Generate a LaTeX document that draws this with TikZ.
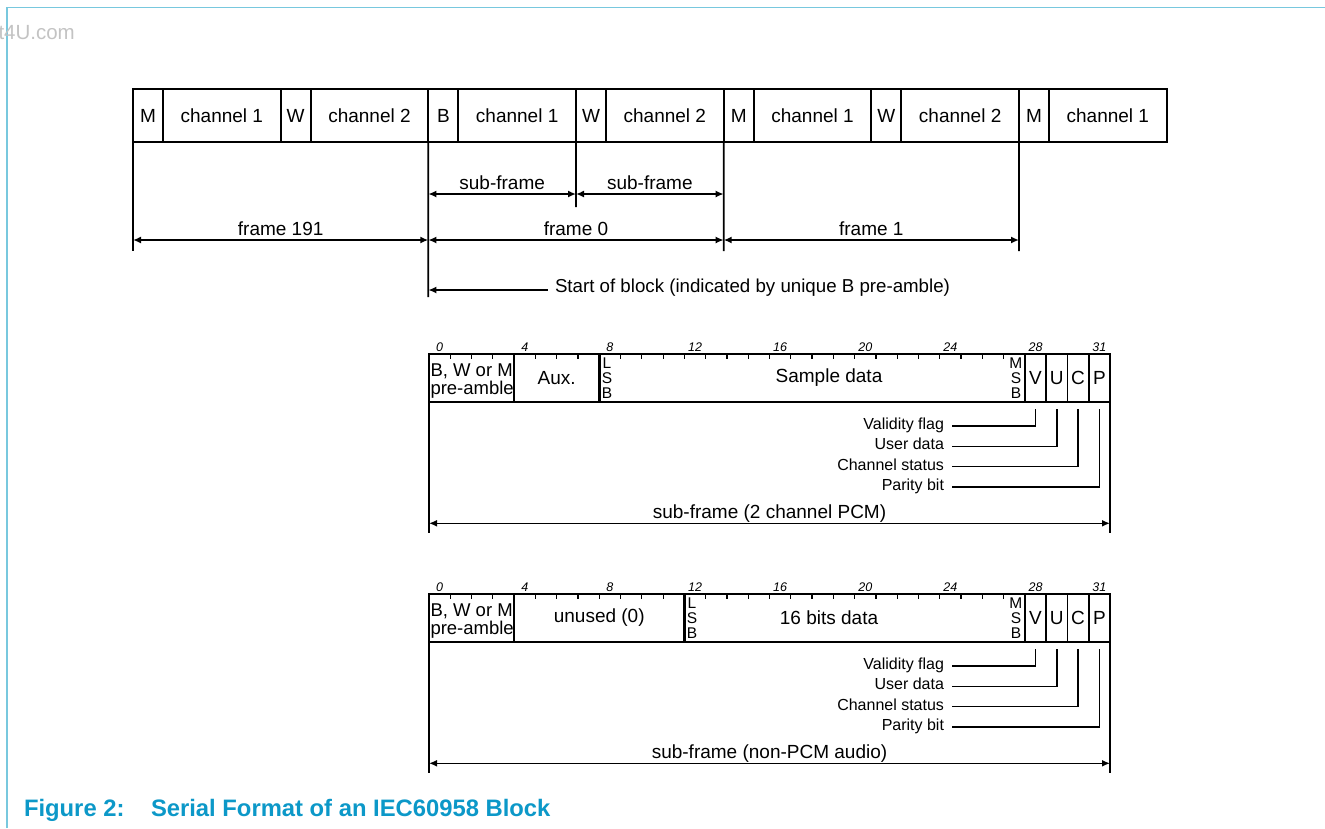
\documentclass[tikz,border=0pt]{standalone}
\usepackage{fontspec}
\setmainfont{Liberation Sans}
\usetikzlibrary{arrows.meta}
\definecolor{capblue}{RGB}{12,152,200}
\definecolor{rulecyan}{RGB}{120,200,222}
\definecolor{wmgray}{RGB}{195,195,195}
\newcommand{\myfs}[2]{\fontsize{#1}{#2}\selectfont}
\def\bw{21.28125}
\begin{document}
\begin{tikzpicture}[x=1pt,y=-1pt,
  every node/.style={inner sep=0pt,outer sep=0pt},
  topcell/.style={draw,line width=2.2pt,minimum height=53pt,anchor=north west,font=\myfs{19}{20}},
  vline/.style={line width=1.8pt},
  dimarrow/.style={line width=1.6pt,{Latex[length=8pt,width=7pt]}-{Latex[length=8pt,width=7pt]}},
  onearrow/.style={line width=1.6pt,{Latex[length=8pt,width=7pt]}-},
  lbl/.style={font=\myfs{19}{20}},
  ticklbl/.style={font=\itshape\myfs{12.5}{13},anchor=base},
  bitbox/.style={draw,line width=1.8pt,minimum width=681pt,minimum height=48pt,anchor=north west},
  sepline/.style={line width=1.6pt},
  lsbline/.style={line width=2.5pt},
  tickline/.style={line width=1.2pt},
  flaglbl/.style={font=\myfs{16}{17},anchor=base east},
  flagline/.style={line width=1.6pt},
  stack/.style={font=\myfs{15.5}{15}},
  bitlbl/.style={font=\myfs{19}{20}}
]
\useasboundingbox (0,0) rectangle (1325,828);

% page border and watermark
\coordinate (bl) at (7,828);
\coordinate (tl) at (7,7.3);
\coordinate (tr) at (1325,7.3);
\draw[rulecyan,line width=1.6pt] (bl) -- (tl) -- (tr);
\node[anchor=west,text=wmgray,font=\myfs{20.5}{21}] (wm) at (-1.5,33) {t4U.com};

% top row of sub-frames
\foreach \p [count=\k from 0] in {M,W,B,W,M,W,M} {
  \pgfmathsetmacro\xa{133+\k*147.667}
  \pgfmathtruncatemacro\ch{mod(\k,2)+1}
  \node[topcell,minimum width=30pt] (pre\k) at (\xa,89) {\p};
  \node[topcell,minimum width=117.667pt] (ch\k) at (\xa+30,89) {channel \ch};
}

% extension lines
\coordinate (e0) at (133,251);
\coordinate (e2) at (428.33,297);
\coordinate (e3) at (576,207);
\coordinate (e4) at (723.67,251);
\coordinate (e6) at (1019,251);
\foreach \k in {0,2,3,4,6} \draw[vline] (pre\k.south west) -- (e\k);

% sub-frame arrows
\coordinate (sA) at (428.33,194);
\coordinate (sB) at (576,194);
\coordinate (sC) at (723.67,194);
\draw[dimarrow] (sA) -- (sB) node[midway,lbl,anchor=base,yshift=5pt] (sf1) {sub-frame};
\draw[dimarrow] (sB) -- (sC) node[midway,lbl,anchor=base,yshift=5pt] (sf2) {sub-frame};

% frame arrows
\coordinate (fA) at (133,240);
\coordinate (fB) at (428.33,240);
\coordinate (fC) at (723.67,240);
\coordinate (fD) at (1019,240);
\draw[dimarrow] (fA) -- (fB) node[midway,lbl,anchor=base,yshift=5pt] (fr191) {frame 191};
\draw[dimarrow] (fB) -- (fC) node[midway,lbl,anchor=base,yshift=5pt] (fr0) {frame 0};
\draw[dimarrow] (fC) -- (fD) node[midway,lbl,anchor=base,yshift=5pt] (fr1) {frame 1};

% start of block
\node[lbl,anchor=base west,font=\myfs{18.7}{20}] (sob) at (555,292) {Start of block (indicated by unique B pre-amble)};
\coordinate (sbA) at (428.33,290);
\coordinate (sbB) at (548,290);
\draw[onearrow] (sbA) -- (sbB);

% the two sub-frame layouts
\foreach \yo/\b/\ls/\midt/\dat/\sub in {0/1/8/Aux./Sample data/2 channel PCM,240/2/12/unused (0)/16 bits data/non-PCM audio}{
  \node[bitbox] (box\b) at (429,354+\yo) {};
  \foreach \i in {1,...,31}
    \draw[tickline] ({429+\i*\bw},354+\yo) -- ({429+\i*\bw},359+\yo);
  \foreach \i in {0,4,...,28}
    \node[ticklbl] (t\b-\i) at ({429+(\i+0.5)*\bw},351+\yo) {\i};
  \node[ticklbl] (t\b-31) at ({429+31.5*\bw},351+\yo) {31};
  \foreach \i in {4,28,29,30,31}
    \draw[sepline] ({429+\i*\bw},354+\yo) -- ({429+\i*\bw},402+\yo);
  \draw[lsbline] ({429+\ls*\bw},354+\yo) -- ({429+\ls*\bw},402+\yo);
  \node[lbl,align=left,anchor=west,font=\myfs{18.5}{18.5}] (pa\b) at (430.5,381+\yo) {B, W or M\\pre-amble};
  \node[lbl] (mid\b) at ({429+(4+\ls)/2*\bw},378+\yo) {\midt};
  \node[stack,align=center,anchor=west] (lsb\b) at ({429+\ls*\bw+2.5},378+\yo) {L\\S\\B};
  \node[lbl] (dat\b) at (829,378+\yo) {\dat};
  \node[stack,align=center,anchor=east] (msb\b) at ({429+28*\bw-2.5},378+\yo) {M\\S\\B};
  \foreach \l [count=\j from 28] in {V,U,C,P}
    \node[bitlbl] (\l\b) at ({429+(\j+0.5)*\bw},378+\yo) {\l};
  \foreach \j/\name/\fy in {28/Validity flag/426,29/User data/446.3,30/Channel status/466.5,31/Parity bit/486.7}{
    \node[flaglbl] (fl\b-\j) at (944,\fy+3.6+\yo) {\name};
    \coordinate (fs\b-\j) at (952,\fy+\yo);
    \coordinate (fc\b-\j) at ({429+(\j+0.5)*\bw},\fy+\yo);
    \coordinate (ft\b-\j) at ({429+(\j+0.5)*\bw},409+\yo);
    \draw[flagline] (fs\b-\j) -- (fc\b-\j) -- (ft\b-\j);
  }
  \coordinate (el\b) at (429,533+\yo);
  \coordinate (er\b) at (1110,533+\yo);
  \draw[vline] (box\b.south west) -- (el\b);
  \draw[vline] (box\b.south east) -- (er\b);
  \coordinate (al\b) at (429,523.3+\yo);
  \coordinate (ar\b) at (1110,523.3+\yo);
  \draw[dimarrow] (al\b) -- (ar\b) node[midway,lbl,anchor=base,yshift=4.5pt] (sl\b) {sub-frame (\sub)};
}

% caption
\node[anchor=base west,text=capblue,font=\bfseries\myfs{23.8}{25}] (capA) at (24,816.5) {Figure 2:};
\node[anchor=base west,text=capblue,font=\bfseries\myfs{23.8}{25}] (capB) at (151,816.5) {Serial Format of an IEC60958 Block};
\end{tikzpicture}
\end{document}
